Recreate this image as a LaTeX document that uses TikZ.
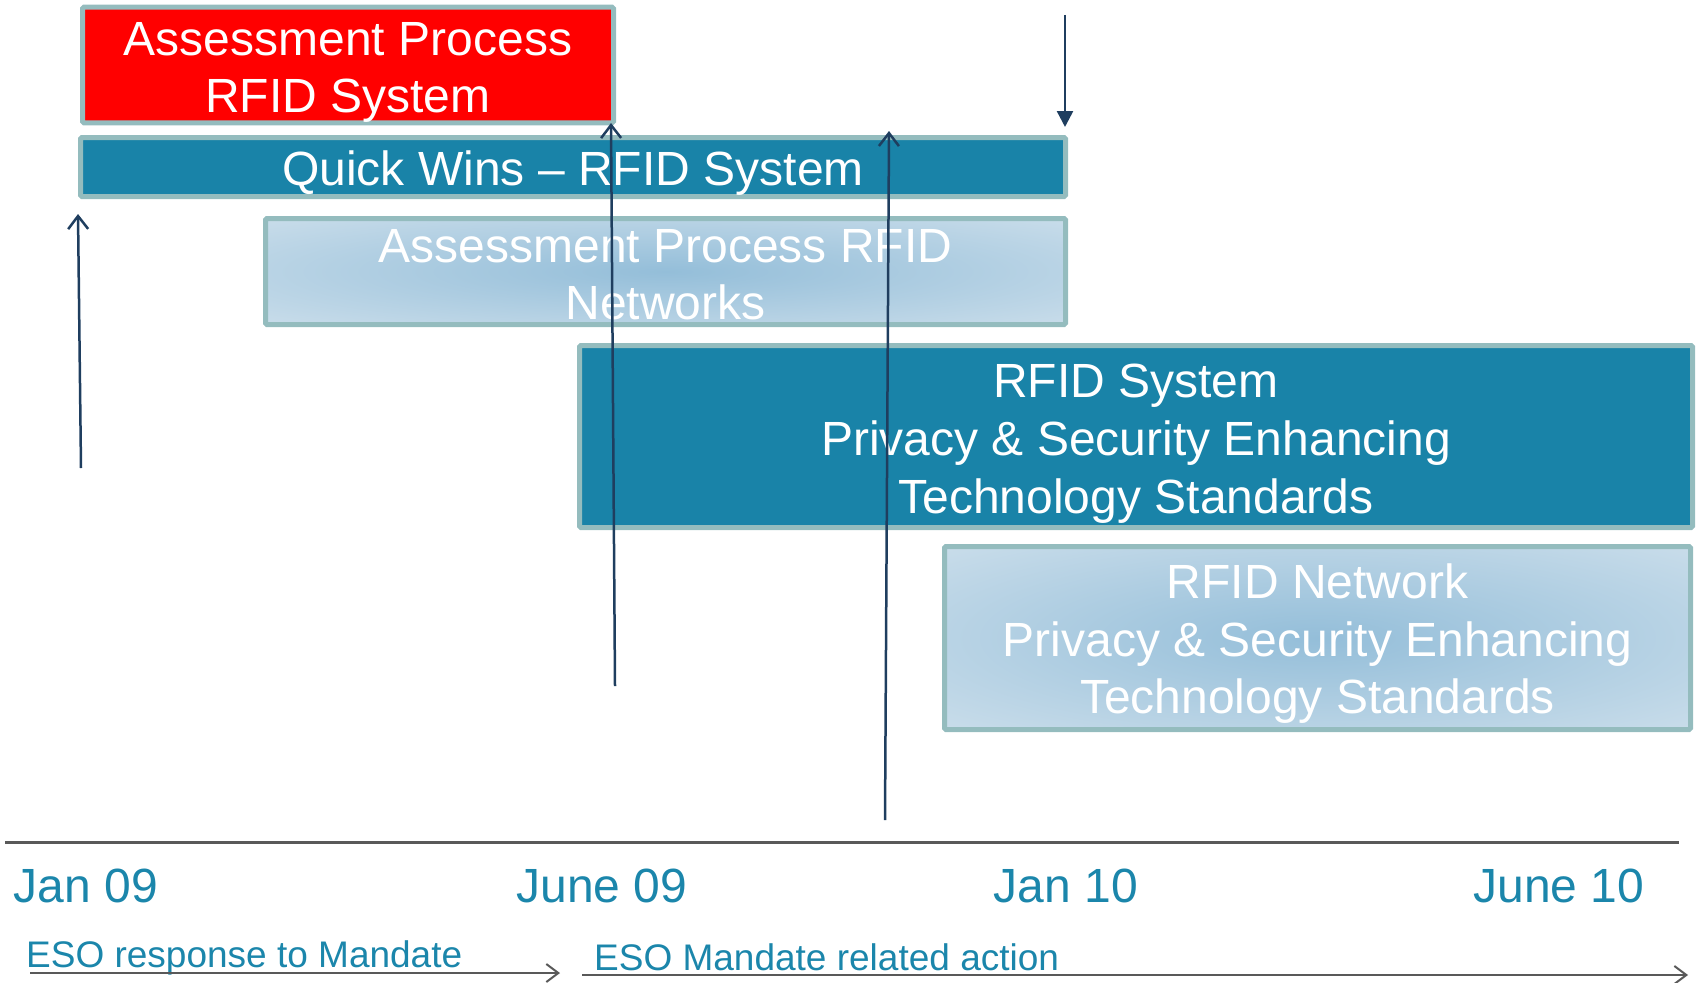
\documentclass[tikz,border=0pt]{standalone}
\usepackage{fontspec}
\setmainfont{Liberation Sans}
\usetikzlibrary{arrows.meta}

\definecolor{boxteal}{RGB}{25,131,168}
\definecolor{boxrim}{RGB}{148,188,190}
\definecolor{glowin}{RGB}{148,190,217}
\definecolor{glowout}{RGB}{222,233,241}
\definecolor{datecol}{RGB}{27,134,171}
\definecolor{pinnavy}{RGB}{31,62,95}
\definecolor{axisgray}{RGB}{89,89,89}

\pgfdeclareradialshading{boxglow}{\pgfpoint{0bp}{0bp}}{color(0bp)=(glowin); color(50bp)=(glowout); color(75bp)=(glowout)}

% invisible strut that pushes the box text down a little
\newcommand{\lifttext}[1]{\rule{0pt}{#1}}

\begin{document}
\begin{tikzpicture}[x=1pt, y=-1pt,
    box/.style={draw=boxrim, line width=5pt, rounded corners=1.5pt, inner sep=0pt, outer sep=0pt,
        text=white, align=center, font=\fontsize{48}{57.6}\selectfont},
    redbox/.style={box, fill=red},
    tealbox/.style={box, fill=boxteal},
    glowbox/.style={box, shading=boxglow},
    pin/.style={draw=pinnavy, line width=2.5pt, -{Straight Barb[length=13pt, width=20pt]}},
    droppin/.style={draw=pinnavy, line width=2.5pt, -{Triangle[length=16pt, width=16pt]}},
    datelabel/.style={text=datecol, inner sep=0pt, anchor=base, font=\fontsize{48}{57.6}\selectfont},
    phase/.style={draw=axisgray, line width=2pt, -{Straight Barb[length=12pt, width=18pt]}},
    phaselabel/.style={text=datecol, inner sep=0pt, anchor=base west, font=\fontsize{37}{44}\selectfont}]

\useasboundingbox (0,0) rectangle (1704,982);

% Work packages
\node[redbox, minimum width=531pt, minimum height=107pt] (apsys) at (348,65) {\lifttext{48pt}Assessment Process\\RFID System};
\node[tealbox, minimum width=985pt, minimum height=59pt] (quickwins) at (573,167) {\lifttext{46pt}Quick Wins -- RFID System};
\node[glowbox, minimum width=800pt, minimum height=106pt] (apnet) at (665.5,271.5) {\lifttext{39.5pt}Assessment Process RFID\\Networks};
\node[tealbox, minimum width=1113pt, minimum height=182pt] (sysstd) at (1136,436.5) {\lifttext{48pt}RFID System\\Privacy \& Security Enhancing\\Technology Standards};
\node[glowbox, minimum width=746pt, minimum height=183pt] (netstd) at (1317.5,638) {\lifttext{46pt}RFID Network\\Privacy \& Security Enhancing\\Technology Standards};

% Milestone pins
\coordinate (pin1-foot) at (81,468);
\coordinate (pin1-tip) at (78,214);
\coordinate (pin2-foot) at (615,686);
\coordinate (pin2-tip) at (611,123);
\coordinate (pin3-foot) at (885,820);
\coordinate (pin3-tip) at (889,131);
\coordinate (pin4-top) at (1065,15);
\coordinate (pin4-tip) at (1065,127);
\draw[pin] (pin1-foot) -- (pin1-tip);
\draw[pin] (pin2-foot) -- (pin2-tip);
\draw[pin] (pin3-foot) -- (pin3-tip);
\draw[droppin] (pin4-top) -- (pin4-tip);

% Time axis
\coordinate (axis-l) at (5,842);
\coordinate (axis-r) at (1679,842);
\draw[axisgray, line width=3pt] (axis-l) -- (axis-r);

\node[datelabel] (jan09) at (86,902) {Jan 09};
\node[datelabel] (jun09) at (602,902) {June 09};
\node[datelabel] (jan10) at (1066,902) {Jan 10};
\node[datelabel] (jun10) at (1559,902) {June 10};

% Phases
\node[phaselabel] (resp) at (26,967) {ESO response to Mandate};
\node[phaselabel] (action) at (594,970) {ESO Mandate related action};
\coordinate (resp-l) at (30,973);
\coordinate (resp-r) at (560,973);
\coordinate (action-l) at (582,975);
\coordinate (action-r) at (1688,975);
\draw[phase] (resp-l) -- (resp-r);
\draw[phase] (action-l) -- (action-r);
\end{tikzpicture}
\end{document}
